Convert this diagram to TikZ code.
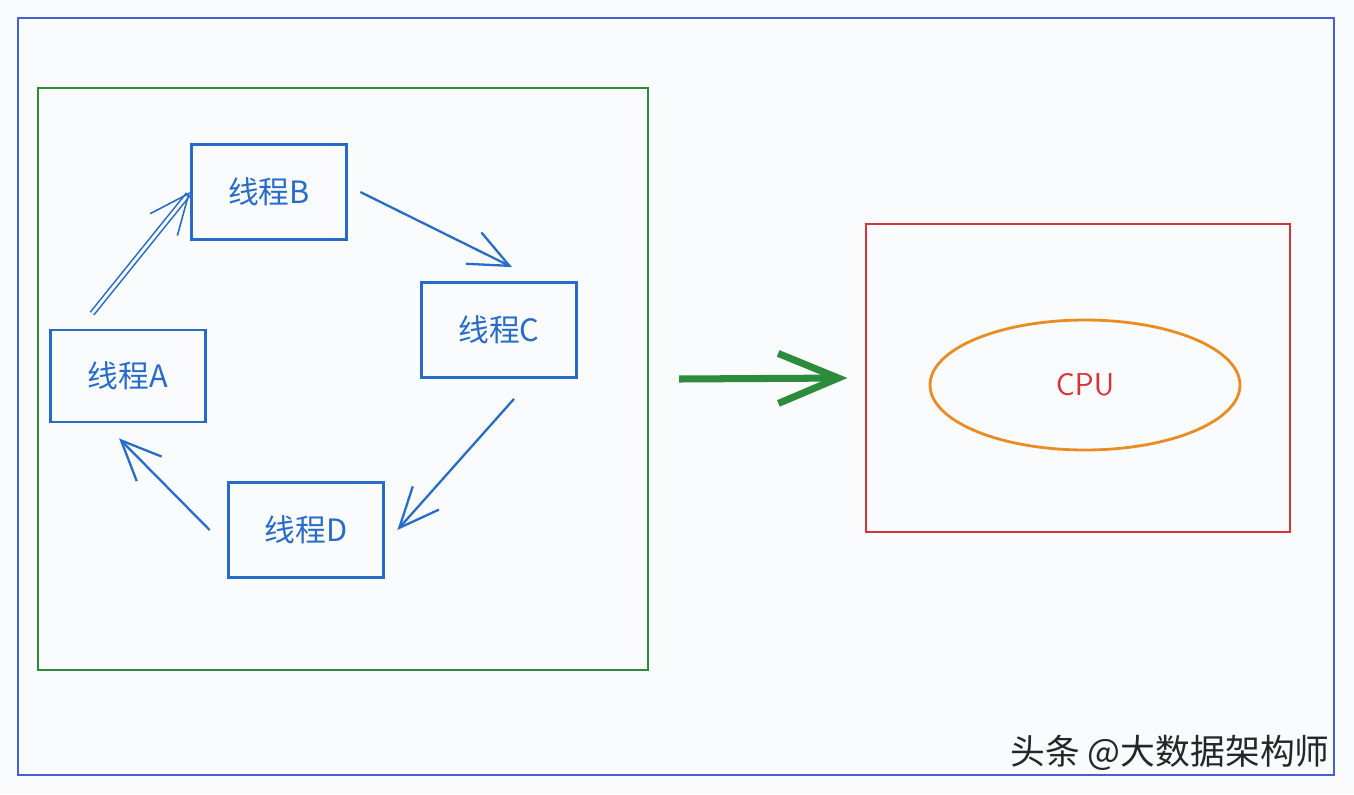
\documentclass[tikz,border=0pt]{standalone}
\usepackage{fontspec}
\newfontfamily\cjk{Noto Sans CJK SC}
\usetikzlibrary{shapes.geometric, arrows.meta, positioning}
\definecolor{paper}{RGB}{250,251,253}
\definecolor{frameblue}{RGB}{70,95,210}
\definecolor{threadblue}{RGB}{38,108,200}
\definecolor{poolgreen}{RGB}{45,140,60}
\definecolor{cpured}{RGB}{215,50,55}
\definecolor{cpuorange}{RGB}{235,140,35}

\begin{document}
\begin{tikzpicture}[
  x=0.02cm, y=-0.02cm,
  thread/.style={rectangle, draw=threadblue, line width=1.6pt,
                 minimum width=3.1cm, minimum height=1.9cm,
                 font=\cjk\fontsize{17.5}{20}\selectfont, text=threadblue},
  flow/.style={draw=threadblue, line width=1.3pt,
               -{Straight Barb[length=8mm, width=7mm]}},
  frame/.style={draw, line width=1.3pt}
]
% canvas
\fill[paper] (0,0) rectangle (1354,794);
\useasboundingbox (0,0) rectangle (1354,794);
\node[frame, draw=frameblue, minimum width=26.32cm, minimum height=15.14cm] (outer) at (676,396.5) {};
\node[frame, draw=poolgreen, minimum width=12.2cm, minimum height=11.64cm] (pool) at (343,379) {};
\node[frame, draw=cpured, minimum width=8.48cm, minimum height=6.16cm] (core) at (1078,378) {};
% threads
\node[thread] (tb) at (269,192) {线程B};
\node[thread] (tc) at (499,330) {线程C};
\node[thread, minimum height=1.84cm] (ta) at (128,376) {线程A};
\node[thread] (td) at (306,530) {线程D};
\draw[flow, double=paper, double distance=1.6pt, line width=0.9pt]
  ([xshift=-0.72cm, yshift=0.3cm]ta.north) -- (tb.west);
\draw[flow] ([xshift=0.25cm]tb.east) -- ([xshift=0.26cm, yshift=0.28cm]tc.north);
\draw[flow] ([xshift=0.3cm, yshift=-0.4cm]tc.south) -- ([xshift=0.25cm]td.east);
\draw[flow] ([xshift=-0.35cm]td.west) -- ([xshift=1.4cm, yshift=-0.3cm]ta.south west);
% cpu
\node[ellipse, draw=cpuorange, line width=1.6pt, minimum width=6.2cm, minimum height=2.6cm,
      text=cpured, font=\sffamily\fontsize{18}{20}\selectfont] (cpu) at (1085,385) {CPU};
\draw[draw=poolgreen, line width=4pt, -{Straight Barb[length=12mm, width=10mm]}]
  ([xshift=0.6cm]pool.east) -- ([xshift=-0.35cm]core.west);
% watermark
\node[anchor=east, font=\cjk\fontsize{19.8}{22}\selectfont, text=black!85, inner sep=0pt] (mark)
  at (1330,753) {头条 @大数据架构师};
\end{tikzpicture}
\end{document}
